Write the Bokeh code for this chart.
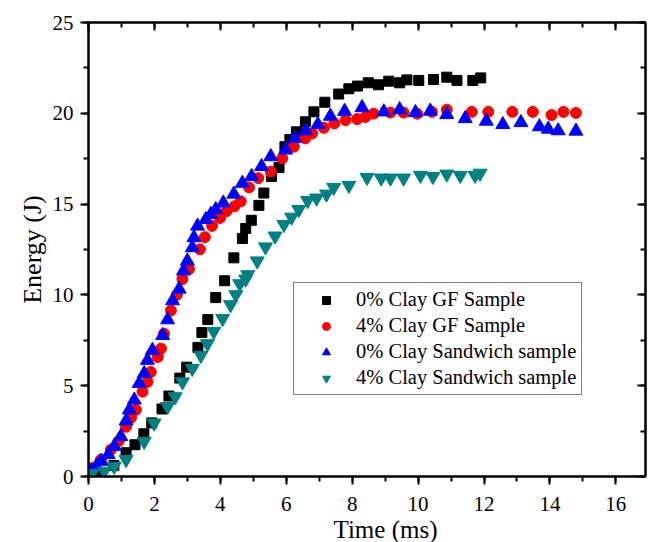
from bokeh.plotting import figure
from bokeh.models import Range1d, LinearAxis, SingleIntervalTicker, Legend, LegendItem, Title
from bokeh.embed import file_html
from bokeh.resources import INLINE

# 0% Clay GF Sample
gf0_x = [0.26, 0.77, 1.14, 1.41, 1.68, 1.92, 2.23, 2.44, 2.77, 2.98, 3.32, 3.44, 3.62, 3.86, 4.13, 4.41,
         4.67, 4.77, 4.94, 5.17, 5.32, 5.55, 5.78, 5.96, 6.11, 6.31, 6.58, 6.84, 7.17, 7.59, 7.90, 8.16,
         8.49, 8.80, 9.11, 9.44, 9.66, 10.02, 10.47, 10.87, 11.18, 11.66, 11.90]
gf0_y = [0.16, 0.60, 1.31, 1.75, 2.35, 2.95, 3.72, 4.43, 5.42, 6.02, 7.11, 7.93, 8.64, 9.85, 10.78, 12.04,
         13.11, 13.66, 14.11, 14.93, 15.61, 16.52, 17.01, 18.16, 18.56, 18.98, 19.53, 20.08, 20.61, 21.06, 21.35, 21.50,
         21.68, 21.57, 21.77, 21.68, 21.84, 21.81, 21.86, 21.99, 21.81, 21.81, 21.95]

# 4% Clay GF Sample
gf4_x = [0.13, 0.38, 0.68, 0.92, 1.14, 1.29, 1.44, 1.64, 1.79, 1.89, 2.10, 2.20, 2.29, 2.50, 2.68, 2.85,
         3.05, 3.38, 3.53, 3.75, 3.99, 4.19, 4.43, 4.62, 4.87, 5.15, 5.53, 5.88, 6.23, 6.58, 6.79, 7.14,
         7.46, 7.80, 8.15, 8.40, 8.65, 9.16, 9.56, 9.97, 10.42, 10.87, 11.63, 12.13, 12.86, 13.48, 14.05,
         14.41, 14.79]
gf4_y = [0.48, 0.93, 1.48, 1.95, 2.74, 3.23, 3.67, 4.67, 5.21, 5.76, 6.58, 7.04, 7.86, 9.14, 10.0, 10.87,
         11.42, 12.51, 13.18, 13.80, 14.24, 14.61, 14.88, 15.15, 15.92, 16.43, 16.79, 17.52, 18.16, 18.62, 18.89, 19.20,
         19.44, 19.62, 19.68, 19.80, 19.98, 20.04, 20.04, 19.98, 20.08, 20.20, 20.08, 20.08, 20.08, 20.08, 19.90,
         20.08, 20.02]

# 0% Clay Sandwich sample
sw0_x = [0.08, 0.23, 0.38, 0.60, 0.78, 0.98, 1.14, 1.24, 1.39, 1.54, 1.69, 1.79, 1.94, 2.25, 2.40, 2.55,
         2.75, 2.88, 3.00, 3.15, 3.20, 3.31, 3.56, 3.71, 3.86, 4.09, 4.41, 4.67, 4.95, 5.25, 5.53, 5.98,
         6.26, 6.59, 6.96, 7.34, 7.77, 8.30, 8.96, 9.44, 9.92, 10.37, 10.87, 11.43, 12.07, 12.57, 13.12,
         13.68, 13.95, 14.25, 14.79]
sw0_y = [0.29, 0.55, 0.84, 1.20, 1.66, 2.20, 3.06, 3.67, 4.21, 5.13, 5.67, 6.40, 6.95, 7.77, 8.63, 9.68,
         10.32, 11.32, 11.87, 12.60, 13.15, 13.79, 14.15, 14.43, 14.70, 15.06, 15.55, 16.15, 16.52, 17.07, 17.61, 17.98,
         18.62, 19.04, 19.38, 19.84, 20.11, 20.31, 20.08, 20.20, 20.04, 20.12, 19.93, 19.71, 19.57, 19.38, 19.49,
         19.26, 19.13, 19.04, 19.02]

# 4% Clay Sandwich sample
sw4_x = [0.10, 0.48, 0.78, 1.14, 1.69, 1.99, 2.40, 2.63, 2.85, 3.15, 3.41, 3.61, 3.80, 4.07, 4.31, 4.47,
         4.59, 4.77, 4.83, 5.12, 5.37, 5.66, 5.93, 6.16, 6.38, 6.65, 6.92, 7.22, 7.44, 7.90, 8.45, 8.88,
         9.16, 9.56, 10.07, 10.45, 10.87, 11.28, 11.73, 11.88]
sw4_y = [0.16, 0.29, 0.56, 0.93, 1.93, 2.94, 3.85, 4.39, 5.21, 5.95, 6.67, 7.31, 7.99, 8.70, 9.46, 10.01,
         10.61, 10.87, 11.11, 11.87, 12.64, 13.24, 13.88, 14.28, 14.70, 15.19, 15.33, 15.55, 15.92, 16.03, 16.47, 16.43,
         16.43, 16.43, 16.58, 16.52, 16.65, 16.58, 16.58, 16.70]

labels = ["0% Clay GF Sample", "4% Clay GF Sample", "0% Clay Sandwich sample", "4% Clay Sandwich sample"]
x_label = "Time (ms)"
y_label = "Energy (J)"

FONT = "Liberation Serif"

p = figure(width=649, height=542, output_backend="svg", toolbar_location=None,
           x_range=Range1d(0, 16.9), y_range=Range1d(0, 25),
           min_border_left=88, min_border_right=4, min_border_top=22, min_border_bottom=65)
p.xgrid.visible = False
p.ygrid.visible = False
p.outline_line_color = "black"
p.outline_line_width = 2
p.background_fill_color = "white"
p.border_fill_color = "white"

for ax in p.xaxis:
    ax.ticker = SingleIntervalTicker(interval=2, num_minor_ticks=2)
for ax in p.yaxis:
    ax.ticker = SingleIntervalTicker(interval=5, num_minor_ticks=2)

def style_main(ax):
    ax.axis_line_width = 2
    ax.major_tick_line_width = 2
    ax.minor_tick_line_width = 2
    ax.major_tick_in = 0
    ax.major_tick_out = 8
    ax.minor_tick_in = 0
    ax.minor_tick_out = 5
    ax.major_label_text_font = FONT
    ax.major_label_text_font_size = "21px"
    ax.major_label_text_color = "black"
    ax.axis_label_text_font = FONT
    ax.axis_label_text_font_style = "normal"
    ax.axis_label_text_color = "black"

style_main(p.xaxis[0])
style_main(p.yaxis[0])
p.yaxis.axis_label = y_label
p.yaxis.axis_label_text_font_size = "26px"
p.xaxis.major_label_standoff = 12
p.yaxis.major_label_standoff = 7
p.yaxis.axis_label_standoff = 3

top = LinearAxis(ticker=SingleIntervalTicker(interval=2, num_minor_ticks=2))
right = LinearAxis(ticker=SingleIntervalTicker(interval=5, num_minor_ticks=2))
for ax in (top, right):
    ax.axis_line_width = 2
    ax.major_tick_line_width = 2
    ax.minor_tick_line_width = 2
    ax.major_tick_in = 8
    ax.major_tick_out = 0
    ax.minor_tick_in = 5
    ax.minor_tick_out = 0
    ax.major_label_text_color = None
    ax.major_label_text_font_size = "1px"
    ax.major_label_standoff = 0
p.add_layout(top, "above")
p.add_layout(right, "right")

xtitle = Title(text=x_label, align="left", offset=245, standoff=0,
               text_font=FONT, text_font_size="25px", text_font_style="normal",
               text_color="black", text_line_height=1.0)
p.add_layout(xtitle, "below")

r1 = p.scatter(gf0_x, gf0_y, marker="square", size=10, color="black")
r2 = p.scatter(gf4_x, gf4_y, marker="circle", size=11, color="#ff0000")
r3 = p.scatter(sw0_x, sw0_y, marker="triangle", size=14, color="#0000ff")
r4 = p.scatter(sw4_x, sw4_y, marker="inverted_triangle", size=14, color="#008080")

legend = Legend(items=[LegendItem(label=labels[0], renderers=[r1]),
                       LegendItem(label=labels[1], renderers=[r2]),
                       LegendItem(label=labels[2], renderers=[r3]),
                       LegendItem(label=labels[3], renderers=[r4])],
                location=(205, 81))
legend.label_text_font = FONT
legend.label_text_font_size = "20.5px"
legend.label_text_color = "black"
legend.border_line_color = "black"
legend.border_line_width = 1
legend.background_fill_alpha = 1
legend.padding = 5
legend.spacing = 3
legend.margin = 0
legend.glyph_width = 54
legend.glyph_height = 20
legend.label_height = 21
legend.label_standoff = 3
p.add_layout(legend, "center")

open("out.html", "w").write(file_html(p, INLINE))
